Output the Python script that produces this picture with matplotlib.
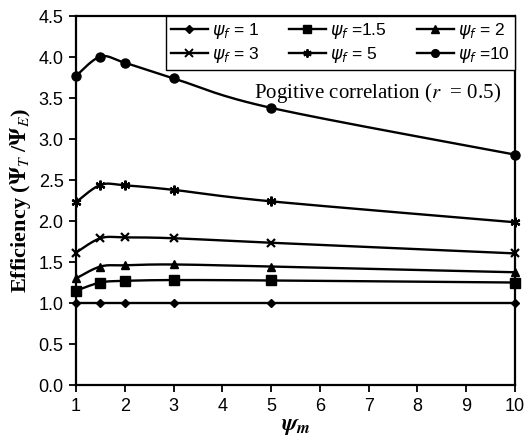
import numpy as np
import matplotlib
matplotlib.use("Agg")
import matplotlib.pyplot as plt
from matplotlib.lines import Line2D

plt.rcParams['font.family'] = ['Liberation Sans', 'DejaVu Sans']

psi_m = [1, 1.5, 2, 3, 5, 10]
series_labels = ["1", "1.5", "2", "3", "5", "10"]
eff_1 = [1.0, 1.0, 1.0, 1.0, 1.0, 1.0]
eff_15 = [1.15, 1.25, 1.27, 1.28, 1.275, 1.25]
eff_2 = [1.30, 1.445, 1.46, 1.47, 1.445, 1.375]
eff_3 = [1.615, 1.79, 1.80, 1.79, 1.735, 1.605]
eff_5 = [2.23, 2.44, 2.435, 2.38, 2.24, 1.985]
eff_10 = [3.77, 4.005, 3.93, 3.74, 3.38, 2.81]
x_ticks = [1, 2, 3, 4, 5, 6, 7, 8, 9, 10]
y_ticks = [0.0, 0.5, 1.0, 1.5, 2.0, 2.5, 3.0, 3.5, 4.0, 4.5]

series = [eff_1, eff_15, eff_2, eff_3, eff_5, eff_10]
markers = ['D', 's', '^', 'x', (6, 2, 0), 'o']
msizes = [4.5, 6.5, 6, 6, 7, 6.5]
legend_text = [r"$\psi_f$ = 1", r"$\psi_f$ =1.5", r"$\psi_f$ = 2",
               r"$\psi_f$ = 3", r"$\psi_f$ = 5", r"$\psi_f$ =10"]


def smooth(x, y, n=30, tension=0.5):
    # Catmull-Rom style rendering of the curve through the data points
    x = np.asarray(x, float); y = np.asarray(y, float)
    xs, ys = [], []
    for i in range(len(x) - 1):
        p0 = np.array([x[i - 1] if i > 0 else x[i], y[i - 1] if i > 0 else y[i]])
        p1 = np.array([x[i], y[i]])
        p2 = np.array([x[i + 1], y[i + 1]])
        p3 = np.array([x[i + 2] if i + 2 < len(x) else x[i + 1],
                       y[i + 2] if i + 2 < len(x) else y[i + 1]])
        m1 = (p2 - p0) * tension
        m2 = (p3 - p1) * tension
        t = np.linspace(0, 1, n)[:, None]
        h00 = 2 * t**3 - 3 * t**2 + 1
        h10 = t**3 - 2 * t**2 + t
        h01 = -2 * t**3 + 3 * t**2
        h11 = t**3 - t**2
        pts = h00 * p1 + h10 * m1 + h01 * p2 + h11 * m2
        xs.extend(pts[:, 0]); ys.extend(pts[:, 1])
    return np.array(xs), np.array(ys)


fig = plt.figure(figsize=(5.32, 4.45), dpi=100)
ax = fig.add_axes([0.1429, 0.1348, 0.8250, 0.8292])

for yv, mk, ms in zip(series, markers, msizes):
    sx, sy = smooth(psi_m, yv)
    ax.plot(sx, sy, color='black', lw=1.7, zorder=2)
    ax.plot(psi_m, yv, linestyle='none', marker=mk, markersize=ms,
            color='black', markeredgecolor='black',
            markeredgewidth=1.6 if (mk == 'x' or isinstance(mk, tuple)) else 1.0,
            zorder=3, clip_on=False)

ax.set_xlim(1, 10)
ax.set_ylim(0, 4.5)
ax.set_xticks(x_ticks)
ax.set_yticks(y_ticks)
ax.set_yticklabels([f"{v:.1f}" for v in y_ticks])
ax.tick_params(direction='out', length=5, width=1.3, labelsize=13, pad=4)
for s in ax.spines.values():
    s.set_linewidth(1.6)

handles = [Line2D([0], [0], color='black', lw=1.7, marker=mk, markersize=ms * 0.85,
                  markeredgewidth=1.4 if (mk == 'x' or isinstance(mk, tuple)) else 1.0)
           for mk, ms in zip(markers, msizes)]
order = [0, 3, 1, 4, 2, 5]
leg = ax.legend([handles[i] for i in order], [legend_text[i] for i in order],
                ncol=3, loc='upper right', bbox_to_anchor=(1.0, 1.0),
                fontsize=12.5, frameon=True, fancybox=False, edgecolor='black',
                framealpha=1, borderaxespad=0.0, handlelength=2.1,
                handletextpad=0.25, columnspacing=1.75, labelspacing=0.2,
                borderpad=0.3)
leg.get_frame().set_linewidth(1.0)

ax.text(0.968, 0.791, r"Pogitive correlation ($r$  = 0.5)", transform=ax.transAxes,
        ha='right', va='center', fontsize=15, family='Liberation Serif',
        math_fontfamily='stix')

ax.set_ylabel(r"Efficiency ($\mathbf{\Psi}_{T}$ /$\mathbf{\Psi}_{E}$)",
              fontsize=16, fontweight='bold', family='Liberation Serif',
              math_fontfamily='stix', labelpad=4)
ax.set_xlabel(r"$\mathbfit{\psi}_{\mathbfit{m}}$", fontsize=17,
              math_fontfamily='stix', labelpad=0)

fig.savefig("out.png", dpi=100)
